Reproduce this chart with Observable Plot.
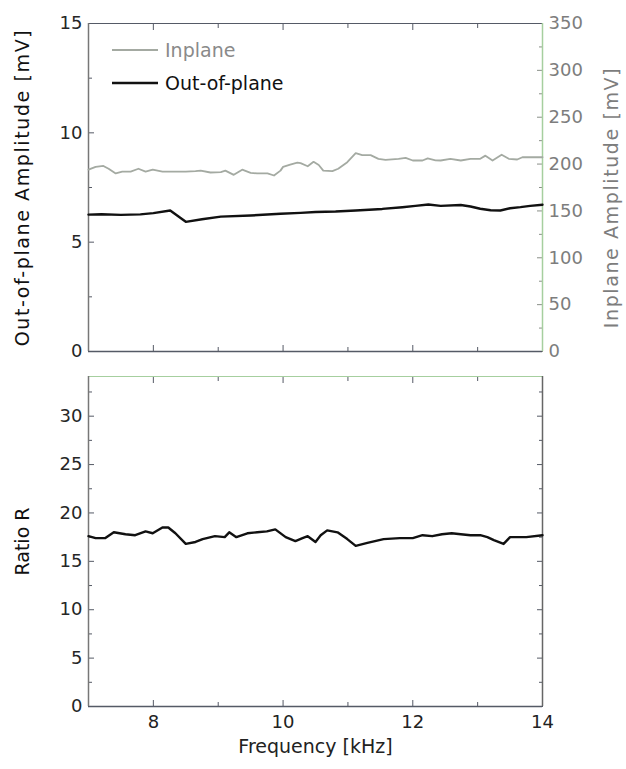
<!DOCTYPE html>
<html>
<head>
<meta charset="utf-8">
<script src="https://cdn.jsdelivr.net/npm/d3@7"></script>
<script src="https://cdn.jsdelivr.net/npm/@observablehq/plot@0.6"></script>
<style>
  html, body { margin: 0; padding: 0; background: #fff; }
  #wrap { position: relative; width: 626px; height: 769px; font-family: "DejaVu Sans", sans-serif; }
  #wrap svg { display: block; }
  #legend { position: absolute; left: 0; top: 0; }
</style>
</head>
<body>
<div id="wrap"></div>
<script>
// ---- data ----
const inFreq = [7.00,7.11,7.23,7.31,7.42,7.52,7.65,7.77,7.88,7.99,8.14,8.30,8.50,8.65,8.73,8.88,9.04,9.11,9.24,9.37,9.50,9.60,9.76,9.86,9.96,10.00,10.11,10.22,10.27,10.38,10.47,10.55,10.62,10.76,10.85,10.99,11.12,11.22,11.35,11.47,11.58,11.78,11.89,12.00,12.15,12.23,12.35,12.43,12.58,12.74,12.89,13.04,13.12,13.23,13.37,13.48,13.61,13.69,14.00];
const inplane = [194,197,198,195,190,192,192,195,192,194,192,192,192,192.5,193,191,191.5,193,188.5,194,190.7,190,190,187.8,193,197,199.5,201.5,201,197.7,202.4,199,193,192.4,195,202,211.6,209.5,209.5,205.6,204.5,205.6,206.7,203.8,203.8,206,204,203.8,205.6,203.8,205.6,205.6,209,203.8,210,205.6,204.9,207.3,207.3];

const outFreq = [7.00,7.20,7.50,7.80,8.00,8.26,8.50,8.75,9.04,9.50,9.96,10.27,10.50,10.81,11.12,11.53,11.84,12.04,12.24,12.43,12.74,12.89,13.04,13.20,13.35,13.50,13.66,13.81,14.00];
const outOfPlane = [6.26,6.28,6.25,6.27,6.33,6.45,5.93,6.05,6.17,6.22,6.30,6.34,6.38,6.40,6.45,6.52,6.60,6.66,6.72,6.66,6.70,6.63,6.53,6.46,6.45,6.55,6.60,6.66,6.71];

const rFreq = [7.00,7.11,7.26,7.39,7.57,7.72,7.88,7.99,8.14,8.23,8.34,8.50,8.65,8.76,8.95,9.10,9.17,9.28,9.45,9.60,9.75,9.88,10.04,10.19,10.30,10.38,10.50,10.58,10.68,10.84,10.99,11.12,11.30,11.55,11.80,12.00,12.15,12.30,12.45,12.60,12.74,12.89,13.04,13.15,13.25,13.40,13.50,13.75,14.00];
const ratioR = [17.6,17.4,17.4,18.0,17.8,17.7,18.1,17.9,18.5,18.5,17.9,16.8,17.0,17.3,17.6,17.5,18.0,17.5,17.9,18.0,18.1,18.3,17.5,17.1,17.4,17.6,17.0,17.7,18.2,18.0,17.3,16.6,16.9,17.3,17.4,17.4,17.7,17.6,17.8,17.9,17.8,17.7,17.7,17.5,17.2,16.8,17.5,17.5,17.7];

const xMajor = [8, 10, 12, 14];
const xMinor = [7, 9, 11, 13];
const leftMajor = [0, 5, 10, 15];
const leftMinor = [2.5, 7.5, 12.5];
const rightMajor = [0, 50, 100, 150, 200, 250, 300, 350];
const rightMinor = [25, 75, 125, 175, 225, 275, 325];
const rMajor = [0, 5, 10, 15, 20, 25, 30];
const rMinor = [2.5, 7.5, 12.5, 17.5, 22.5, 27.5, 32.5];

const legendLabels = ["Inplane", "Out-of-plane"];

// ---- tables ----
const inData = inFreq.map((f, i) => ({f, v: inplane[i]}));
const outData = outFreq.map((f, i) => ({f, v: outOfPlane[i]}));
const rData = rFreq.map((f, i) => ({f, v: ratioR[i]}));

const leftMax = 15, rightMax = 350;
const toLeft = v => v * leftMax / rightMax;

const frameC = "#555a66";
const greenC = "#a6cf9f";
const inC = "#a4aaa2";
const FONT = "'DejaVu Sans', 'Liberation Sans', sans-serif";
const font = {fontFamily: FONT, fontSize: "18px", background: "#fff", overflow: "visible"};

function xTicks(anchor) {
  return [
    Plot.axisX({anchor, ticks: xMajor, tickSize: -6, fill: "none", stroke: frameC, label: null}),
    Plot.axisX({anchor, ticks: xMinor, tickSize: -4, fill: "none", stroke: frameC, label: null})
  ];
}

const topChart = Plot.plot({
  width: 626, height: 365,
  marginLeft: 88, marginRight: 84, marginTop: 23, marginBottom: 14,
  style: font,
  x: {domain: [7, 14]},
  y: {domain: [0, leftMax]},
  marks: [
    ...xTicks("bottom"), ...xTicks("top"),
    Plot.axisY({anchor: "left", ticks: leftMajor, tickSize: -6, fill: "none", stroke: frameC, label: null}),
    Plot.axisY({anchor: "left", ticks: leftMinor, tickSize: -4, fill: "none", stroke: frameC, label: null}),
    Plot.axisY({anchor: "left", ticks: leftMajor, tickSize: 0, tickPadding: 6, fill: "#262626", label: null}),
    Plot.axisY({anchor: "right", ticks: rightMajor.map(toLeft), tickSize: -6, fill: "none", stroke: "#8a8f88", label: null}),
    Plot.axisY({anchor: "right", ticks: rightMinor.map(toLeft), tickSize: -4, fill: "none", stroke: "#8a8f88", label: null}),
    Plot.axisY({anchor: "right", ticks: rightMajor.map(toLeft), tickSize: 0, tickPadding: 6, fill: "#7d7d7d",
      tickFormat: d => String(Math.round(d * rightMax / leftMax)), label: null}),
    Plot.ruleY([0], {stroke: frameC, strokeWidth: 1.5}),
    Plot.ruleY([leftMax], {stroke: frameC, strokeWidth: 1.2}),
    Plot.ruleX([7], {stroke: "#777", strokeWidth: 1.5}),
    Plot.ruleX([14], {stroke: greenC, strokeWidth: 1.5}),
    Plot.line(inData, {x: "f", y: d => toLeft(d.v), stroke: inC, strokeWidth: 1.8}),
    Plot.line(outData, {x: "f", y: "v", stroke: "#111", strokeWidth: 2.4}),
    Plot.text(["Out-of-plane Amplitude [mV]"], {frameAnchor: "left", textAnchor: "middle", rotate: -90, dx: -66, fill: "#111", fontSize: 19, fontFamily: FONT}),
    Plot.text(["Inplane Amplitude [mV]"], {frameAnchor: "right", textAnchor: "middle", rotate: -90, dx: 69, dy: 10, fill: "#7d7d7d", fontSize: 19, fontFamily: FONT})
  ]
});

const bottomChart = Plot.plot({
  width: 626, height: 404,
  marginLeft: 88, marginRight: 84, marginTop: 11, marginBottom: 63,
  style: font,
  x: {domain: [7, 14]},
  y: {domain: [0, 34.1]},
  marks: [
    ...xTicks("bottom"), ...xTicks("top"),
    Plot.axisX({anchor: "bottom", ticks: xMajor, tickSize: 0, tickPadding: 9, fill: "#222", tickFormat: "d", label: null}),
    Plot.axisY({anchor: "left", ticks: rMajor, tickSize: -6, fill: "none", stroke: frameC, label: null}),
    Plot.axisY({anchor: "left", ticks: rMinor, tickSize: -4, fill: "none", stroke: frameC, label: null}),
    Plot.axisY({anchor: "right", ticks: rMajor, tickSize: -6, fill: "none", stroke: frameC, label: null}),
    Plot.axisY({anchor: "right", ticks: rMinor, tickSize: -4, fill: "none", stroke: frameC, label: null}),
    Plot.axisY({anchor: "left", ticks: rMajor, tickSize: 0, tickPadding: 6, fill: "#262626", label: null}),
    Plot.ruleY([0], {stroke: frameC, strokeWidth: 1.5}),
    Plot.ruleY([34.1], {stroke: greenC, strokeWidth: 1.2}),
    Plot.ruleX([7], {stroke: "#777", strokeWidth: 1.5}),
    Plot.ruleX([14], {stroke: "#666", strokeWidth: 1.5}),
    Plot.line(rData, {x: "f", y: "v", stroke: "#111", strokeWidth: 2.4}),
    Plot.text(["Ratio R"], {frameAnchor: "left", textAnchor: "middle", rotate: -90, dx: -66, fill: "#111", fontSize: 19, fontFamily: FONT}),
    Plot.text(["Frequency [kHz]"], {frameAnchor: "bottom", dy: 46, fill: "#222", fontSize: 19, fontFamily: FONT})
  ]
});

const wrap = document.getElementById("wrap");
wrap.appendChild(topChart);
wrap.appendChild(bottomChart);

// slight letter spacing on the rotated axis titles (they are long in the reference)
for (const svg of [topChart, bottomChart]) {
  svg.querySelectorAll("text").forEach(t => {
    if (/Amplitude/.test(t.textContent)) t.setAttribute("letter-spacing", "1.6");
  });
}

// legend overlay
const ns = "http://www.w3.org/2000/svg";
const lg = document.createElementNS(ns, "svg");
lg.setAttribute("id", "legend");
lg.setAttribute("width", 320);
lg.setAttribute("height", 110);
const items = [
  {label: legendLabels[0], y: 50, stroke: inC, sw: 1.8, fill: "#8a8a8a"},
  {label: legendLabels[1], y: 83, stroke: "#111", sw: 2.4, fill: "#111"}
];
for (const it of items) {
  const l = document.createElementNS(ns, "line");
  l.setAttribute("x1", 112); l.setAttribute("x2", 158);
  l.setAttribute("y1", it.y); l.setAttribute("y2", it.y);
  l.setAttribute("stroke", it.stroke); l.setAttribute("stroke-width", it.sw);
  lg.appendChild(l);
  const t = document.createElementNS(ns, "text");
  t.setAttribute("x", 165); t.setAttribute("y", it.y);
  t.setAttribute("dy", "0.35em");
  t.setAttribute("fill", it.fill);
  t.setAttribute("font-size", 19);
  t.setAttribute("font-family", FONT);
  t.textContent = it.label;
  lg.appendChild(t);
}
wrap.appendChild(lg);
</script>
</body>
</html>
